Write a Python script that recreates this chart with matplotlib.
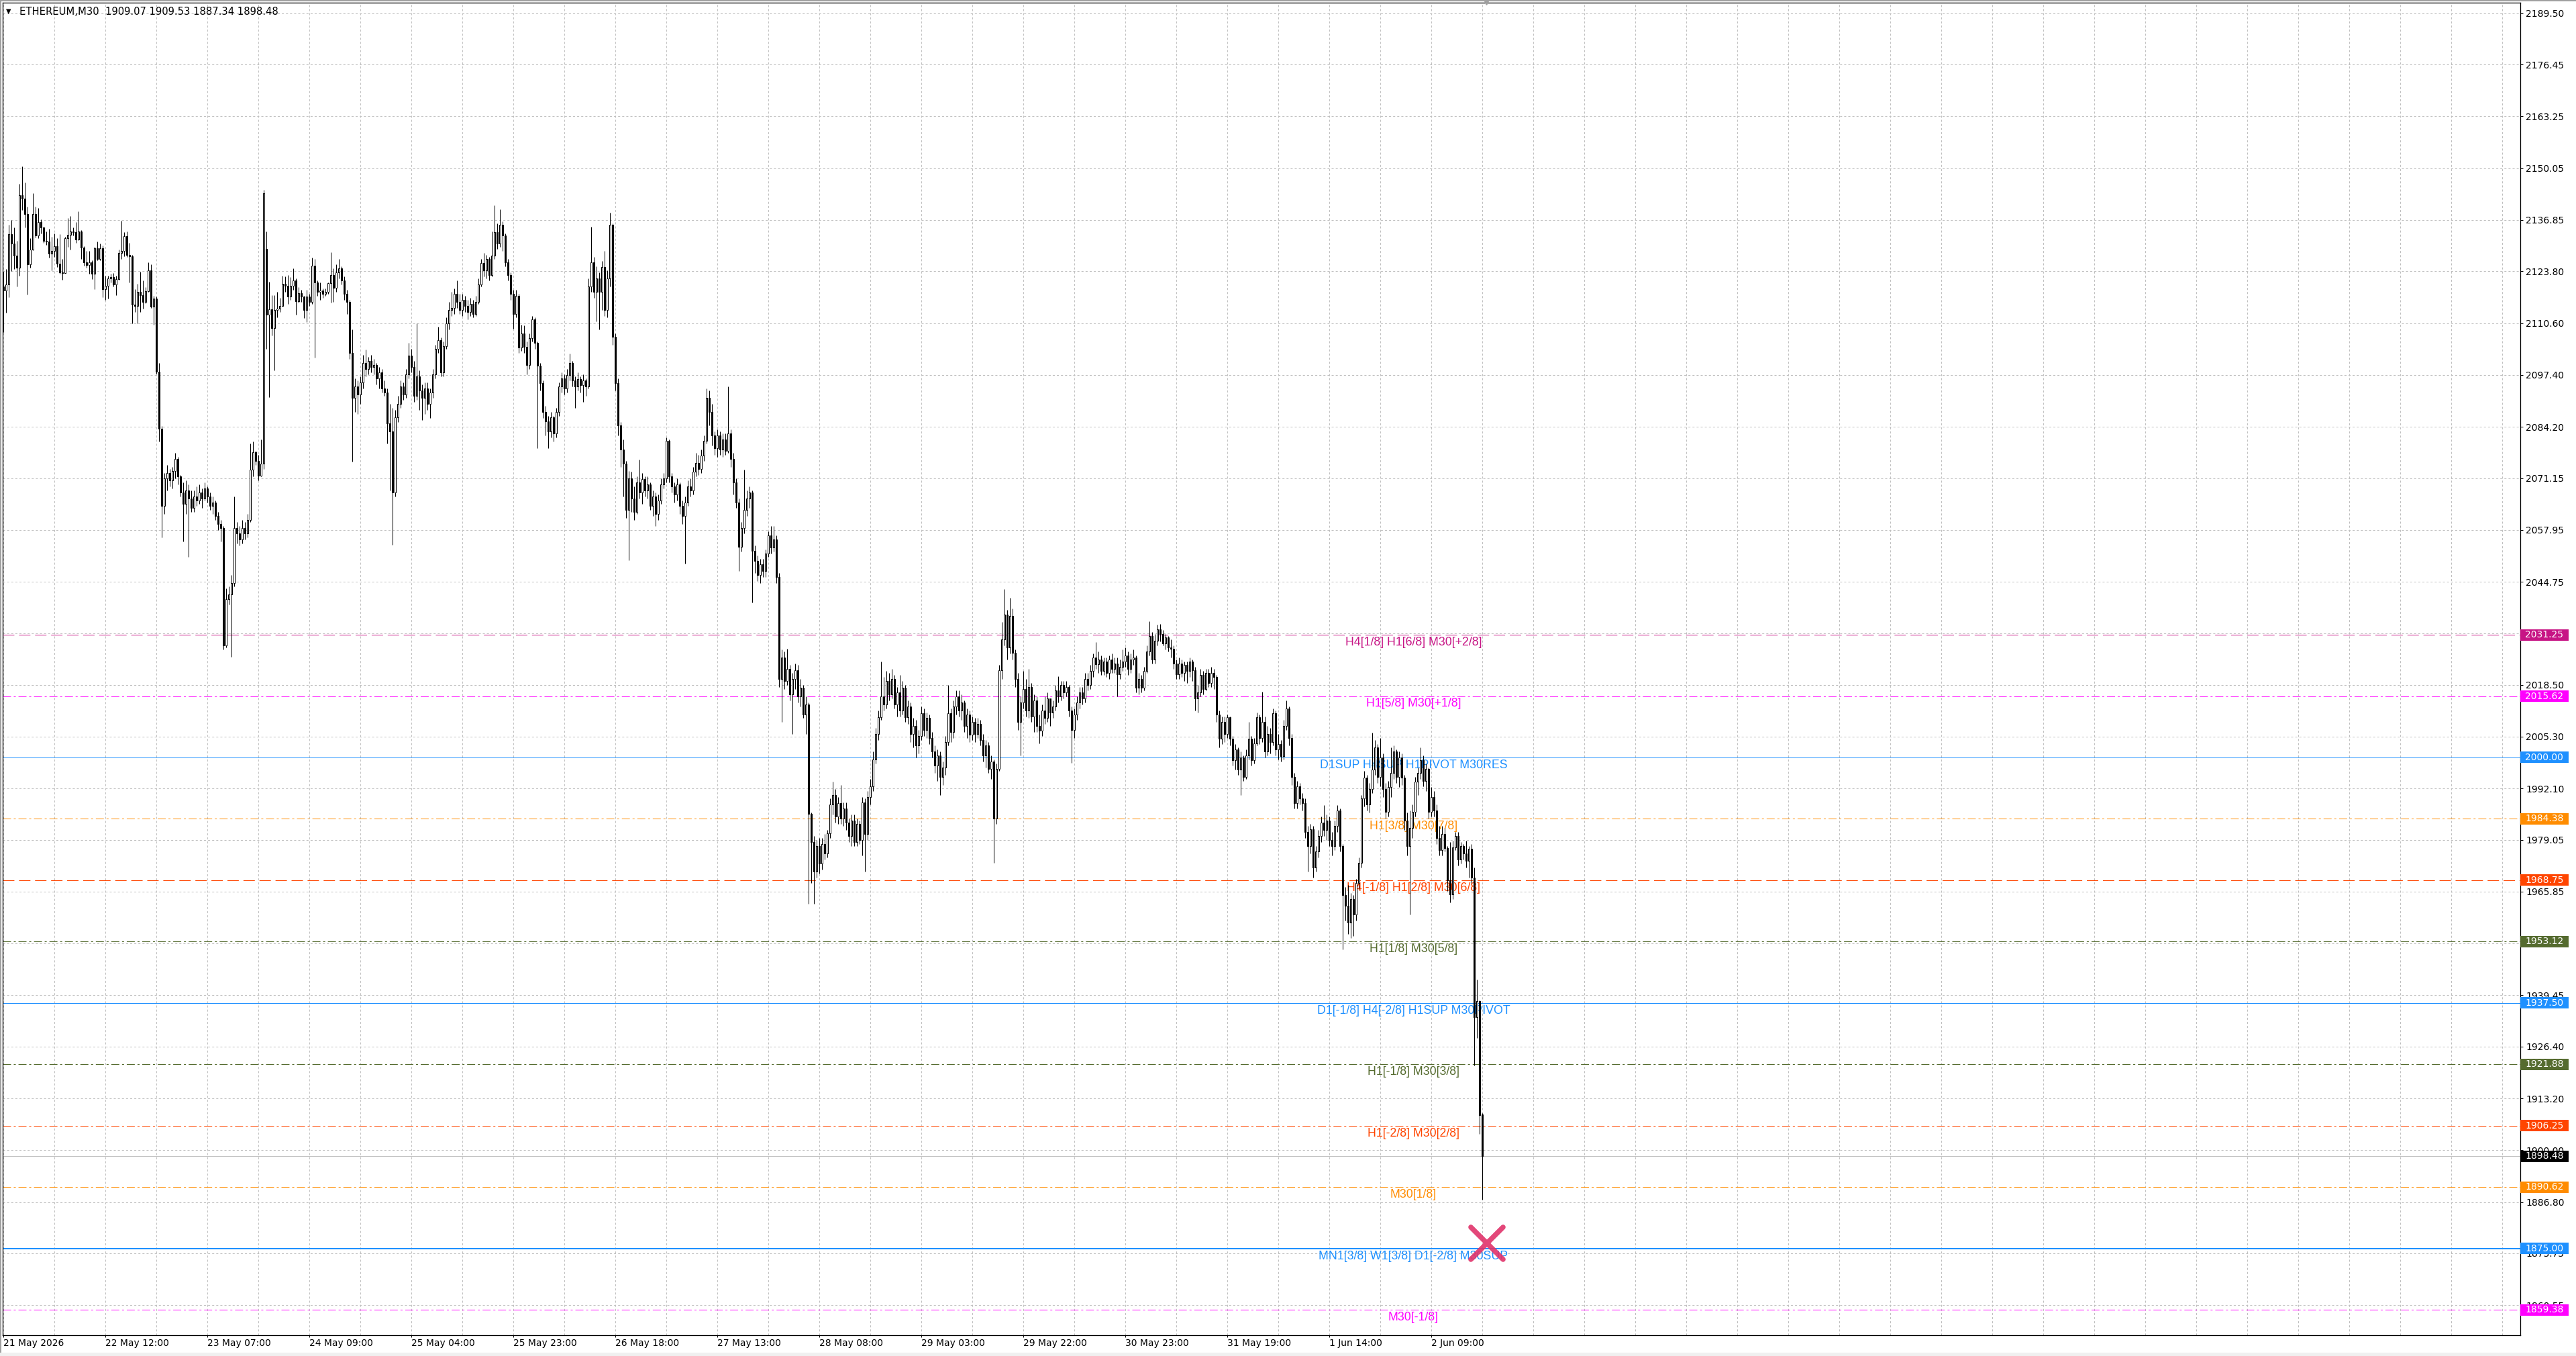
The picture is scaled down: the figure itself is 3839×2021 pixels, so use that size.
import matplotlib
matplotlib.use("Agg")
import matplotlib.pyplot as plt
from matplotlib.patches import Rectangle
from matplotlib.markers import MarkerStyle
import numpy as np

# ETHEREUM M30 candles (open = previous close unless listed in open_gaps)
closes = [
    2118.9, 2120.4, 2133.3, 2130.9, 2127.8, 2124.7, 2143.1, 2142.3, 2138.3, 2125.5,
    2129.4, 2138.3, 2133.0, 2136.4, 2134.9, 2131.6, 2131.3, 2128.3, 2129.0, 2130.1,
    2125.7, 2123.6, 2123.4, 2132.3, 2133.1, 2134.0, 2133.8, 2131.9, 2133.9, 2129.9,
    2126.0, 2125.4, 2126.1, 2123.2, 2129.7, 2126.9, 2129.7, 2119.2, 2120.1, 2121.9,
    2122.3, 2120.4, 2121.8, 2128.5, 2129.0, 2132.7, 2127.9, 2127.7, 2115.3, 2114.9,
    2118.5, 2117.7, 2116.0, 2118.8, 2124.0, 2114.8, 2116.9, 2098.2, 2083.7, 2064.0,
    2071.0, 2072.5, 2070.5, 2073.0, 2076.0, 2071.5, 2067.5, 2064.5, 2068.0, 2066.0,
    2063.5, 2066.5, 2065.5, 2067.5, 2066.0, 2068.5, 2066.5, 2064.0, 2065.0, 2061.5,
    2059.5, 2058.5, 2028.6, 2040.4, 2041.5, 2044.5, 2058.5, 2057.0, 2055.5, 2058.5,
    2057.0, 2060.5, 2073.3, 2077.7, 2075.5, 2071.8, 2074.8, 2143.6, 2112.8, 2114.1,
    2109.4, 2114.0, 2114.3, 2115.0, 2120.7, 2120.1, 2117.3, 2120.1, 2121.4, 2116.2,
    2118.3, 2117.3, 2114.0, 2117.3, 2116.0, 2125.3, 2121.0, 2118.6, 2118.9, 2118.0,
    2118.6, 2120.8, 2122.9, 2119.6, 2123.5, 2124.5, 2121.5, 2118.0, 2116.0, 2103.0,
    2091.5, 2094.5, 2092.5, 2095.5, 2100.5, 2099.0, 2101.0, 2099.5, 2100.0, 2096.5,
    2098.0, 2094.0, 2093.0, 2085.0, 2083.0, 2067.5, 2086.6, 2090.0, 2094.4, 2092.5,
    2097.5, 2102.3, 2099.5, 2092.0, 2097.0, 2093.5, 2091.5, 2094.0, 2090.0, 2093.0,
    2097.5, 2104.0, 2106.2, 2098.0, 2104.8, 2110.5, 2114.0, 2114.5, 2118.0, 2116.0,
    2114.0, 2116.5, 2115.0, 2113.5, 2115.5, 2113.0, 2116.0, 2120.5, 2125.9, 2124.0,
    2126.9, 2122.9, 2127.8, 2133.7, 2130.8, 2135.7, 2133.0, 2126.0, 2122.9, 2118.0,
    2113.0, 2117.5, 2104.3, 2108.0, 2104.5, 2100.0, 2106.7, 2111.6, 2105.5, 2099.8,
    2095.4, 2088.0, 2085.6, 2083.0, 2086.6, 2082.6, 2088.0, 2094.4, 2096.5, 2094.0,
    2097.4, 2100.5, 2096.0, 2094.5, 2096.4, 2094.8, 2096.0, 2094.4, 2120.0, 2126.0,
    2118.5, 2122.0, 2118.5, 2124.9, 2114.0, 2122.0, 2135.7, 2107.2, 2095.4, 2084.6,
    2078.5, 2074.8, 2063.0, 2071.0, 2066.0, 2062.5, 2070.0, 2067.5, 2070.9, 2068.0,
    2069.5, 2064.0, 2066.5, 2062.0, 2065.5, 2069.5, 2071.0, 2080.7, 2071.5, 2069.0,
    2067.0, 2069.5, 2064.0, 2061.5, 2065.0, 2069.0, 2068.0, 2072.8, 2075.0, 2073.5,
    2076.8, 2080.7, 2091.5, 2088.0, 2082.0, 2078.7, 2082.0, 2078.5, 2081.0, 2078.0,
    2082.6, 2076.0, 2070.0, 2065.0, 2053.7, 2058.5, 2063.0, 2066.0, 2067.4, 2052.7,
    2050.0, 2046.5, 2049.2, 2047.5, 2052.0, 2056.6, 2053.5, 2055.5, 2046.0, 2020.0,
    2025.5, 2019.5, 2022.5, 2016.0, 2020.0, 2022.2, 2015.5, 2017.8, 2011.0, 2013.5,
    1985.6, 1978.5, 1971.0, 1977.5, 1973.0, 1978.0, 1975.5, 1980.7, 1988.0, 1990.5,
    1985.0, 1988.4, 1984.5, 1987.0, 1983.4, 1980.0, 1984.0, 1978.5, 1983.0, 1979.0,
    1988.5, 1980.5, 1990.0, 1992.7, 1999.5, 2006.0, 2010.2, 2015.6, 2013.5, 2019.5,
    2016.0, 2020.0, 2013.5, 2016.5, 2012.0, 2017.8, 2010.2, 2013.0, 2006.0, 2008.0,
    2003.0, 2005.5, 2011.3, 2007.0, 2010.0, 2005.0, 2001.5, 1998.0, 2000.5, 1995.0,
    1997.5, 2004.0, 2011.3, 2006.5, 2013.0, 2015.6, 2012.0, 2014.0, 2008.0, 2011.0,
    2005.8, 2009.0, 2006.0, 2008.5, 2004.5, 2000.5, 2003.0, 1997.1, 1999.0, 1984.5,
    1997.1, 2022.2, 2030.0, 2036.4, 2028.0, 2036.0, 2026.6, 2020.0, 2009.1, 2014.0,
    2017.5, 2012.0, 2018.0, 2010.5, 2014.6, 2008.0, 2006.9, 2012.0, 2010.0, 2015.0,
    2011.5, 2013.0, 2017.0, 2015.6, 2018.5, 2016.5, 2018.0, 2012.0, 2007.0, 2011.0,
    2014.0, 2016.5, 2015.0, 2020.0, 2018.5, 2022.0, 2025.5, 2023.8, 2025.0, 2022.0,
    2024.5, 2021.5, 2024.9, 2022.5, 2024.0, 2021.1, 2023.0, 2024.5, 2026.0, 2022.5,
    2025.0, 2025.5, 2017.8, 2020.0, 2017.8, 2022.0, 2027.0, 2030.9, 2025.0, 2029.8,
    2032.6, 2031.5, 2029.0, 2030.5, 2028.0, 2027.7, 2024.0, 2021.1, 2024.0, 2021.5,
    2023.5, 2022.0, 2024.5, 2022.2, 2015.1, 2016.5, 2021.0, 2017.5, 2021.5, 2019.0,
    2021.5, 2020.5, 2011.0, 2004.7, 2009.0, 2006.0, 2010.2, 2004.7, 1999.3, 2002.0,
    1997.0, 2000.0, 1995.0, 2000.5, 2004.7, 1999.3, 2003.6, 2010.2, 2005.0, 2009.0,
    2001.5, 2006.0, 2004.0, 2011.3, 2002.0, 2003.5, 2000.4, 2008.0, 2012.4, 2005.0,
    1995.0, 1988.4, 1992.7, 1989.5, 1988.4, 1981.0, 1977.4, 1981.8, 1972.0, 1976.0,
    1980.0, 1983.5, 1981.5, 1984.0, 1979.0, 1977.4, 1982.5, 1986.5, 1977.4, 1965.0,
    1962.2, 1958.0, 1964.0, 1960.0, 1968.0, 1973.1, 1989.5, 1994.9, 1988.0, 1992.0,
    1997.0, 2002.5, 1995.0, 2000.0, 1992.0, 1986.2, 1992.5, 1996.0, 2001.5, 1995.0,
    2000.0, 1994.9, 1984.0, 1977.4, 1982.0, 1986.2, 1993.8, 1996.0, 1999.3, 1994.0,
    1997.1, 1986.2, 1990.0, 1986.5, 1979.5, 1976.4, 1980.5, 1977.0, 1968.7, 1965.1,
    1977.1, 1980.0, 1974.0, 1977.5, 1975.5, 1973.7, 1976.8, 1969.4, 1933.8, 1938.0,
    1909.0, 1898.48,
]

highs = [
    2123.7, 2124.3, 2135.6, 2136.8, 2135.0, 2131.5, 2146.0, 2150.5, 2146.4, 2140.2,
    2132.3, 2143.7, 2140.3, 2139.9, 2137.1, 2135.2, 2133.9, 2134.7, 2132.6, 2133.4,
    2132.3, 2133.3, 2126.9, 2132.6, 2137.4, 2137.9, 2135.0, 2136.3, 2139.1, 2134.3,
    2130.1, 2129.0, 2129.0, 2126.6, 2130.0, 2131.3, 2130.9, 2130.3, 2122.6, 2122.6,
    2123.1, 2123.3, 2122.6, 2129.3, 2136.6, 2133.7, 2134.0, 2131.1, 2128.0, 2119.2,
    2120.6, 2123.7, 2121.4, 2119.7, 2126.1, 2125.6, 2117.5, 2117.3, 2100.4, 2084.4,
    2072.5, 2074.5, 2073.5, 2074.0, 2077.5, 2076.5, 2072.0, 2070.0, 2070.5, 2069.5,
    2068.0, 2068.0, 2069.0, 2069.5, 2068.5, 2070.0, 2069.0, 2067.5, 2066.5, 2065.5,
    2062.5, 2060.5, 2059.0, 2043.0, 2043.5, 2046.5, 2066.5, 2060.0, 2059.0, 2060.5,
    2060.0, 2062.0, 2080.0, 2080.5, 2078.0, 2077.0, 2081.0, 2144.5, 2134.0, 2121.2,
    2117.7, 2117.7, 2118.5, 2117.0, 2122.7, 2122.5, 2122.9, 2122.3, 2124.6, 2122.0,
    2119.8, 2119.0, 2117.5, 2119.1, 2118.0, 2127.2, 2127.0, 2121.5, 2120.9, 2119.5,
    2119.5, 2121.0, 2128.7, 2124.6, 2125.5, 2127.0, 2125.0, 2122.5, 2119.0, 2116.5,
    2109.0, 2096.5, 2096.0, 2097.0, 2102.5, 2103.8, 2102.0, 2102.5, 2101.5, 2100.5,
    2099.5, 2099.0, 2096.0, 2094.0, 2090.0, 2089.0, 2088.5, 2092.0, 2096.0, 2095.5,
    2099.0, 2105.5, 2104.0, 2101.0, 2110.6, 2098.5, 2095.0, 2095.5, 2095.5, 2094.0,
    2099.0, 2105.0, 2109.7, 2107.0, 2106.0, 2112.0, 2116.0, 2118.5, 2119.5, 2121.5,
    2118.0, 2118.0, 2117.5, 2116.5, 2117.0, 2116.5, 2117.5, 2122.0, 2127.0, 2128.5,
    2128.0, 2127.5, 2134.0, 2140.6, 2136.0, 2139.5, 2136.5, 2133.5, 2127.0, 2123.5,
    2119.0, 2119.0, 2118.0, 2110.2, 2110.0, 2106.0, 2108.0, 2112.5, 2112.0, 2106.0,
    2100.5, 2096.0, 2089.5, 2087.0, 2088.0, 2087.0, 2089.0, 2095.5, 2098.0, 2097.5,
    2099.0, 2102.8, 2101.0, 2097.0, 2098.0, 2097.0, 2097.5, 2096.5, 2122.0, 2135.2,
    2127.5, 2125.0, 2123.5, 2126.5, 2129.0, 2124.0, 2138.7, 2136.0, 2108.0, 2096.5,
    2085.5, 2081.0, 2075.5, 2073.0, 2072.8, 2069.0, 2071.5, 2075.8, 2072.5, 2071.5,
    2071.5, 2070.0, 2068.0, 2067.5, 2067.0, 2071.0, 2072.5, 2081.5, 2081.0, 2072.5,
    2070.0, 2071.0, 2070.0, 2065.5, 2066.5, 2070.5, 2071.0, 2074.0, 2077.5, 2077.0,
    2078.5, 2082.0, 2094.0, 2093.5, 2090.0, 2083.0, 2083.5, 2083.0, 2082.5, 2082.5,
    2094.4, 2083.5, 2077.5, 2071.0, 2066.0, 2060.0, 2073.3, 2068.0, 2069.0, 2068.0,
    2054.0, 2051.5, 2050.5, 2050.5, 2053.0, 2057.5, 2059.0, 2059.0, 2056.5, 2047.0,
    2027.5, 2027.0, 2027.7, 2023.5, 2021.5, 2024.0, 2023.5, 2020.0, 2018.5, 2015.5,
    2014.0, 1986.0, 1980.0, 1979.0, 1979.5, 1979.5, 1980.5, 1981.5, 1989.5, 1993.8,
    1992.0, 1990.0, 1993.0, 1988.5, 1988.5, 1984.5, 1985.5, 1985.5, 1984.5, 1984.0,
    1990.0, 1989.5, 1991.5, 1994.5, 2001.5, 2007.5, 2012.0, 2024.4, 2020.5, 2022.0,
    2021.5, 2022.5, 2021.0, 2018.0, 2021.0, 2019.5, 2018.5, 2014.5, 2014.0, 2010.0,
    2009.5, 2007.0, 2013.0, 2012.5, 2011.5, 2011.0, 2006.5, 2003.0, 2002.0, 2001.5,
    1999.0, 2005.5, 2018.4, 2012.5, 2014.5, 2017.0, 2017.0, 2016.0, 2014.5, 2012.5,
    2012.0, 2010.5, 2010.0, 2010.0, 2009.5, 2006.0, 2004.5, 2004.0, 2000.5, 1999.5,
    1998.5, 2023.5, 2034.5, 2042.9, 2037.5, 2040.7, 2038.0, 2027.5, 2021.5, 2015.5,
    2022.0, 2020.0, 2022.5, 2019.0, 2016.0, 2015.5, 2011.0, 2013.5, 2015.5, 2016.5,
    2015.0, 2014.5, 2018.5, 2020.6, 2019.5, 2019.5, 2019.5, 2018.5, 2013.0, 2012.5,
    2015.5, 2018.0, 2018.0, 2021.5, 2021.5, 2023.5, 2026.5, 2029.3, 2027.0, 2026.0,
    2025.5, 2025.5, 2026.0, 2026.5, 2025.5, 2025.5, 2025.0, 2027.5, 2028.0, 2027.0,
    2026.5, 2027.5, 2026.0, 2021.5, 2021.0, 2023.0, 2028.5, 2034.7, 2032.0, 2031.5,
    2033.8, 2034.0, 2032.5, 2031.5, 2031.0, 2030.0, 2028.5, 2025.0, 2025.5, 2025.0,
    2024.5, 2024.5, 2025.5, 2025.0, 2023.0, 2018.5, 2022.5, 2022.0, 2022.5, 2022.5,
    2023.0, 2022.5, 2021.0, 2012.0, 2010.5, 2010.5, 2011.0, 2010.5, 2005.5, 2003.5,
    2002.5, 2001.5, 2000.5, 2002.0, 2009.0, 2005.5, 2005.0, 2011.5, 2011.0, 2016.7,
    2010.5, 2008.0, 2007.5, 2012.5, 2012.0, 2006.0, 2004.5, 2009.5, 2014.6, 2013.0,
    2006.0, 1996.0, 1994.0, 1993.5, 1991.0, 1989.5, 1982.5, 1983.0, 1982.5, 1977.5,
    1981.5, 1985.0, 1987.8, 1985.5, 1985.0, 1981.0, 1984.0, 1987.8, 1987.0, 1978.0,
    1967.0, 1967.6, 1965.5, 1965.0, 1969.0, 1974.5, 1990.5, 1996.5, 1995.5, 1993.5,
    2006.4, 2004.5, 2003.5, 2005.0, 2001.0, 1993.5, 1994.0, 2002.5, 2003.0, 2002.0,
    2001.5, 2001.0, 1995.5, 1986.0, 1986.5, 1988.0, 1995.0, 1997.5, 2002.5, 2000.5,
    1998.5, 1997.5, 1992.5, 1991.5, 1988.0, 1982.5, 1982.5, 1982.0, 1977.5, 1978.5,
    1978.8, 1981.0, 1981.0, 1978.5, 1978.0, 1978.8, 1977.5, 1978.0, 1972.0, 1943.5,
    1938.2, 1909.53,
]

lows = [
    2108.3, 2113.2, 2117.2, 2123.8, 2124.4, 2120.0, 2122.6, 2139.4, 2134.9, 2117.9,
    2124.8, 2129.1, 2132.4, 2132.3, 2133.4, 2131.1, 2130.6, 2127.3, 2124.0, 2127.4,
    2124.9, 2123.2, 2121.6, 2123.4, 2130.0, 2129.4, 2133.0, 2131.1, 2131.7, 2126.9,
    2125.2, 2124.7, 2123.2, 2121.8, 2119.2, 2126.6, 2126.6, 2117.2, 2116.6, 2116.9,
    2120.9, 2119.9, 2117.7, 2121.7, 2126.9, 2127.7, 2127.4, 2120.9, 2110.6, 2113.5,
    2110.6, 2113.5, 2114.3, 2115.7, 2118.6, 2114.5, 2110.2, 2097.8, 2080.4, 2056.0,
    2062.0, 2068.0, 2069.0, 2068.5, 2071.0, 2069.5, 2066.5, 2055.0, 2062.0, 2051.0,
    2062.5, 2062.5, 2064.0, 2064.5, 2063.5, 2065.5, 2065.0, 2063.0, 2062.0, 2060.5,
    2058.0, 2055.0, 2027.5, 2028.0, 2039.0, 2025.7, 2043.5, 2054.5, 2054.0, 2054.5,
    2055.5, 2056.0, 2060.0, 2071.5, 2074.5, 2070.5, 2071.5, 2073.5, 2104.1, 2091.8,
    2107.5, 2098.6, 2112.0, 2113.5, 2115.5, 2118.5, 2115.5, 2116.5, 2119.0, 2112.7,
    2115.8, 2116.0, 2111.9, 2110.9, 2115.0, 2115.5, 2101.8, 2117.5, 2116.6, 2117.0,
    2117.5, 2118.0, 2115.9, 2116.0, 2118.5, 2122.0, 2120.5, 2116.5, 2113.0, 2101.5,
    2075.3, 2088.0, 2087.5, 2090.0, 2094.0, 2097.0, 2097.5, 2098.0, 2097.5, 2095.0,
    2094.0, 2093.0, 2092.0, 2080.0, 2068.0, 2054.2, 2066.5, 2085.5, 2089.0, 2091.0,
    2091.5, 2096.5, 2098.0, 2090.5, 2091.0, 2088.5, 2086.0, 2087.5, 2088.5, 2086.5,
    2091.5, 2096.5, 2103.0, 2097.0, 2097.0, 2104.0, 2109.0, 2112.5, 2113.0, 2114.5,
    2113.0, 2112.5, 2113.5, 2111.5, 2112.5, 2112.0, 2112.5, 2115.5, 2120.0, 2122.5,
    2122.0, 2121.5, 2122.5, 2127.0, 2129.5, 2130.0, 2129.0, 2125.0, 2121.5, 2116.5,
    2109.2, 2112.0, 2103.0, 2103.5, 2103.0, 2097.5, 2099.0, 2106.0, 2104.0, 2078.7,
    2093.5, 2086.5, 2082.0, 2078.7, 2081.5, 2080.5, 2081.5, 2087.0, 2093.0, 2092.5,
    2093.0, 2096.0, 2094.5, 2089.0, 2093.5, 2093.0, 2090.5, 2092.0, 2094.0, 2118.5,
    2117.0, 2111.0, 2109.0, 2114.0, 2112.5, 2112.0, 2120.0, 2105.0, 2093.5, 2082.0,
    2074.0, 2066.5, 2061.0, 2050.2, 2062.5, 2060.5, 2062.0, 2066.0, 2064.5, 2066.5,
    2066.0, 2063.0, 2061.5, 2059.0, 2060.5, 2064.5, 2068.5, 2070.0, 2070.0, 2067.5,
    2065.0, 2065.5, 2062.0, 2059.5, 2049.3, 2064.0, 2066.5, 2067.0, 2071.5, 2072.0,
    2072.5, 2075.5, 2080.0, 2084.5, 2079.5, 2077.0, 2076.5, 2077.0, 2076.5, 2077.0,
    2077.5, 2074.0, 2067.0, 2063.5, 2047.5, 2052.5, 2057.0, 2061.5, 2063.5, 2039.4,
    2047.0, 2045.0, 2044.5, 2046.0, 2046.0, 2051.0, 2052.0, 2052.5, 2044.5, 2018.0,
    2009.0, 2017.5, 2018.5, 2014.5, 2006.0, 2017.5, 2014.0, 2013.0, 2010.0, 2006.0,
    1962.7, 1968.0, 1962.7, 1969.5, 1970.5, 1971.5, 1974.0, 1974.5, 1979.5, 1985.5,
    1983.5, 1983.0, 1983.0, 1982.5, 1981.5, 1978.5, 1977.4, 1977.5, 1977.5, 1978.0,
    1975.0, 1971.0, 1979.0, 1988.0, 1991.5, 1998.5, 2004.5, 2009.5, 2012.0, 2012.5,
    2014.5, 2015.0, 2012.5, 2010.5, 2010.5, 2011.0, 2009.0, 2008.5, 2004.0, 2002.5,
    2000.0, 2001.0, 2004.5, 2005.5, 2005.0, 2003.5, 2000.0, 1996.0, 1994.0, 1990.5,
    1993.0, 1995.5, 2003.0, 2004.0, 2005.0, 2011.0, 2010.5, 2009.5, 2006.5, 2005.0,
    2004.0, 2004.5, 2004.0, 2005.0, 2003.0, 1999.0, 1997.5, 1996.0, 1994.5, 1973.1,
    1983.0, 1996.5, 2020.0, 2028.5, 2025.0, 2026.5, 2025.0, 2018.0, 2007.0, 2000.5,
    2012.5, 2010.5, 2010.0, 2009.0, 2006.5, 2006.5, 2003.6, 2005.5, 2008.5, 2009.0,
    2008.0, 2010.0, 2012.0, 2014.0, 2014.5, 2015.0, 2015.5, 2010.5, 1998.7, 2005.0,
    2009.5, 2012.5, 2013.5, 2014.0, 2017.0, 2017.5, 2020.5, 2022.5, 2021.5, 2021.0,
    2021.0, 2020.5, 2020.0, 2021.5, 2021.5, 2015.5, 2020.0, 2022.0, 2023.0, 2021.0,
    2021.5, 2023.5, 2016.5, 2016.0, 2016.5, 2017.0, 2021.5, 2026.0, 2024.0, 2024.0,
    2028.5, 2029.5, 2028.5, 2027.5, 2027.0, 2025.5, 2022.5, 2020.0, 2020.0, 2020.5,
    2019.5, 2019.0, 2020.5, 2019.5, 2012.0, 2011.5, 2015.5, 2016.0, 2017.0, 2018.0,
    2018.0, 2017.5, 2009.0, 2002.5, 2003.5, 2004.0, 2005.0, 2003.0, 1998.0, 1997.0,
    1995.5, 1990.5, 1994.0, 1994.5, 1999.5, 1998.0, 1998.5, 2003.0, 2003.5, 2004.0,
    2000.0, 2000.5, 2001.0, 2003.0, 2000.5, 1999.5, 1999.0, 1999.5, 2007.0, 2003.0,
    1993.0, 1987.0, 1987.0, 1988.0, 1986.5, 1979.5, 1970.9, 1975.5, 1969.5, 1971.0,
    1974.5, 1978.5, 1980.0, 1979.0, 1977.5, 1975.0, 1976.5, 1981.0, 1976.0, 1951.2,
    1958.5, 1955.0, 1954.0, 1954.5, 1958.5, 1966.5, 1972.0, 1987.5, 1986.5, 1986.0,
    1991.0, 1995.5, 1993.5, 1992.7, 1990.0, 1984.5, 1985.0, 1990.0, 1994.5, 1993.5,
    1992.5, 1993.0, 1981.5, 1975.0, 1960.0, 1979.5, 1985.0, 1990.5, 1994.5, 1992.7,
    1991.5, 1984.5, 1985.0, 1985.0, 1978.0, 1975.0, 1975.0, 1976.0, 1966.0, 1963.1,
    1964.0, 1976.5, 1972.5, 1973.0, 1974.0, 1972.0, 1969.4, 1968.0, 1921.5, 1928.6,
    1904.1, 1887.34,
]

open_gaps = {0: 2120.0, 98: 2129.5, 551: 1909.07}

time_labels = ["21 May 2026", "22 May 12:00", "23 May 07:00", "24 May 09:00",
               "25 May 04:00", "25 May 23:00", "26 May 18:00", "27 May 13:00",
               "28 May 08:00", "29 May 03:00", "29 May 22:00", "30 May 23:00",
               "31 May 19:00", "1 Jun 14:00", "2 Jun 09:00"]

price_ticks = [2189.50, 2176.45, 2163.25, 2150.05, 2136.85, 2123.80, 2110.60,
               2097.40, 2084.20, 2071.15, 2057.95, 2044.75, 2031.55, 2018.50,
               2005.30, 1992.10, 1979.05, 1965.85, 1952.65, 1939.45, 1926.40,
               1913.20, 1900.00, 1886.80, 1873.75, 1860.55]

level_prices = [2031.25, 2015.62, 2000.00, 1984.38, 1968.75, 1953.12,
                1937.50, 1921.88, 1906.25, 1890.62, 1875.00, 1859.38]
level_names = ["H4[1/8] H1[6/8] M30[+2/8]", "H1[5/8] M30[+1/8]",
               "D1SUP H4SUP H1PIVOT M30RES", "H1[3/8] M30[7/8]",
               "H4[-1/8] H1[2/8] M30[6/8]", "H1[1/8] M30[5/8]",
               "D1[-1/8] H4[-2/8] H1SUP M30PIVOT", "H1[-1/8] M30[3/8]",
               "H1[-2/8] M30[2/8]", "M30[1/8]",
               "MN1[3/8] W1[3/8] D1[-2/8] M30SUP", "M30[-1/8]"]
level_colors = ["#C71585", "#FF00FF", "#1E90FF", "#FF8C00", "#FF4500", "#556B2F",
                "#1E90FF", "#556B2F", "#FF4500", "#FF8C00", "#1E90FF", "#FF00FF"]
level_styles = ["dash", "dashdot", "solid", "dashdot", "dash", "dashdot",
                "solid", "dashdot", "dashdot", "dashdot", "solid", "dashdot"]

last_price = 1898.48
header = "ETHEREUM,M30  1909.07 1909.53 1887.34 1898.48"
cross_bar, cross_price = 552.8, 1876.3

plt.rcParams['lines.scale_dashes'] = False
plt.rcParams['font.family'] = ['DejaVu Sans']

W, H = 3839, 2021
fig = plt.figure(figsize=(W / 100, H / 100), dpi=100)
fig.patch.set_facecolor('white')
ax = fig.add_axes([4 / W, 31 / H, 3752 / W, 1986 / H])

n = min(len(closes), len(highs), len(lows))
c = np.array(closes[:n])
o = np.array([open_gaps.get(i, closes[i - 1] if i > 0 else closes[0]) for i in range(n)])
hi = np.maximum(np.array(highs[:n]), np.maximum(o, c))
lo = np.minimum(np.array(lows[:n]), np.minimum(o, c))
x = np.arange(n)

px = 0.72  # one pixel in points
ax.set_xlim(-0.325, 937.7)
ax.set_ylim(1852.9, 2192.2)

# grid
grid_dash = (0, (2.2, 2.2))
ax.set_xticks(np.arange(0, 38 * len(time_labels), 38))
ax.set_xticklabels(time_labels)
ax.set_xticks([k for k in range(19, 938, 19) if k % 38 != 0 or k > 532], minor=True)
ax.set_yticks(price_ticks)
ax.set_yticklabels([f"{p:.2f}" for p in price_ticks])
ax.grid(True, which='both', axis='x', color='#C0C0C0', linestyle=grid_dash, linewidth=px)
ax.grid(True, which='major', axis='y', color='#C0C0C0', linestyle=grid_dash, linewidth=px)
ax.yaxis.tick_right()
ax.tick_params(axis='y', which='major', length=4 * px, width=px, pad=3, labelsize=10,
               colors='black')
ax.tick_params(axis='x', which='major', length=3 * px, width=px, pad=1.5, labelsize=10)
ax.tick_params(axis='x', which='minor', length=0)
for lbl in ax.get_xticklabels():
    lbl.set_horizontalalignment('left')
for sp in ax.spines.values():
    sp.set_linewidth(px * 1.3)
    sp.set_color('black')

# level lines
styles = {"solid": "-", "dash": (0, (12.2, 5.0)), "dashdot": (0, (8.6, 2.9, 2.2, 2.9))}
label_bar = 525.3
for p, name, col, st in zip(level_prices, level_names, level_colors, level_styles):
    lw = 2 * px if p == 1875.00 else px
    ax.axhline(p, color=col, linestyle=styles[st], linewidth=lw, zorder=2)
    ax.text(label_bar, p - 0.5, name, ha='center', va='top', color=col,
            fontsize=12.8, family=['Liberation Sans', 'DejaVu Sans'], zorder=3)
ax.axhline(last_price, color='#C0C0C0', linewidth=px, zorder=2)

# candles
up = c >= o
ax.vlines(x, lo, hi, color='black', linewidth=px, zorder=4)
ax.bar(x[up], (c - o)[up], bottom=o[up], width=0.6, facecolor='white',
       edgecolor='black', linewidth=px, zorder=5)
ax.bar(x[~up], (c - o)[~up], bottom=o[~up], width=0.6, facecolor='black',
       edgecolor='black', linewidth=px, zorder=5)

# price boxes on the right scale
trans = ax.get_yaxis_transform()
box_w = 72 / 3752
box_h = 17 / 5.853
for p, col in list(zip(level_prices, level_colors)) + [(last_price, 'black')]:
    ax.add_patch(Rectangle((1.0, p - box_h / 2), box_w, box_h, transform=trans,
                           facecolor=col, edgecolor='none', clip_on=False, zorder=6))
    ax.text(1.0 + 7 / 3752, p, f"{p:.2f}", transform=trans, ha='left',
            va='center', color='white', fontsize=10, zorder=7, clip_on=False)

# cross marker
ax.plot([cross_bar], [cross_price], linestyle='none',
        marker=MarkerStyle('x', capstyle='round'), markersize=34,
        markeredgewidth=5.5, color='#E0336B', alpha=0.9, zorder=8)

# chart shift marker on the top edge
ax.plot([552.5], [2192.2], linestyle='none', marker='v', markersize=5,
        color='#A0A0A0', clip_on=False, zorder=9)

# header
fig.text(13 / W, 1 - 17 / H, '\u25bc', fontsize=7, ha='center', va='center')
fig.text(29 / W, 1 - 17 / H, header, fontsize=10.6, ha='left', va='center')

# window frame
fig.patches.append(Rectangle((0, 0), 2 / W, 1, transform=fig.transFigure,
                             facecolor='#A0A0A0', edgecolor='none'))
fig.patches.append(Rectangle((0, 1 - 2 / H), 1, 2 / H, transform=fig.transFigure,
                             facecolor='#A0A0A0', edgecolor='none'))
fig.patches.append(Rectangle((0, 0), 1, 5 / H, transform=fig.transFigure,
                             facecolor='#F0F0F0', edgecolor='none'))

fig.savefig('out.png', dpi=100, facecolor='white')
